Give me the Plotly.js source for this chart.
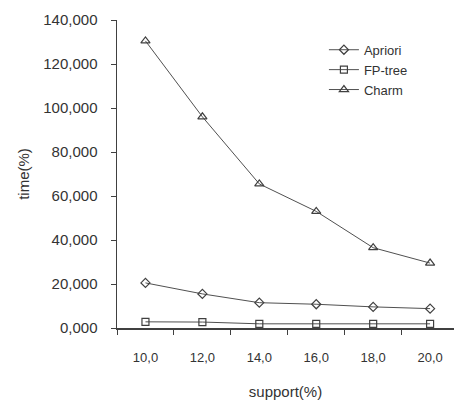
<!DOCTYPE html>
<html><head><meta charset="utf-8">
<script src="https://cdn.plot.ly/plotly-3.0.1.min.js"></script>
<style>html,body{margin:0;padding:0;background:#fff}</style>
</head><body><div id="chart" style="width:454px;height:403px"></div>
<script>
const categories = ["10,0","12,0","14,0","16,0","18,0","20,0"];
const apriori = [20.5, 15.5, 11.5, 10.8, 9.6, 8.8];
const fptree = [2.8, 2.7, 1.9, 1.9, 1.9, 1.9];
const charm = [130.5, 96.0, 65.5, 53.0, 36.5, 29.5];
const seriesNames = ["Apriori","FP-tree","Charm"];
const yTickVals = [0,20,40,60,80,100,120,140];

const lineColor = "#404040";
const fam = "Liberation Sans, Arial, sans-serif";
const txt = "#333";
function tr(name, y, sym, size){
  return {x: categories, y: y, name: name, type: "scatter", mode: "lines+markers",
    line: {color: "#505050", width: 1},
    marker: {symbol: sym, size: size, color: lineColor, line: {color: lineColor, width: 1.2}}};
}
const data = [
  tr(seriesNames[0], apriori, "diamond-open", 7),
  tr(seriesNames[1], fptree, "square-open", 7),
  tr(seriesNames[2], charm, "triangle-up-open", 8)
];
const layout = {
  width: 454, height: 403,
  margin: {l: 117, r: 0, t: 20, b: 75},
  paper_bgcolor: "#fff", plot_bgcolor: "#fff",
  font: {family: fam, size: 14, color: txt},
  separators: ",.",
  showlegend: true,
  legend: {x: 0.614, y: 0.952, xanchor: "left", yanchor: "top", bgcolor: "rgba(0,0,0,0)",
    font: {family: fam, size: 13, color: txt}, tracegroupgap: 0, itemwidth: 30},
  xaxis: {type: "category", range: [-0.5, 5.42], tickson: "boundaries", ticks: "outside",
    ticklen: 5, tickcolor: lineColor, showline: true, linecolor: lineColor, linewidth: 1.5,
    showgrid: false, zeroline: false, ticklabelstandoff: 17,
    tickfont: {family: fam, size: 13, color: txt},
    title: {text: "support(%)", font: {family: fam, size: 15, color: txt}, standoff: 22}},
  yaxis: {range: [0, 140], tickvals: yTickVals, tickformat: ".3f", ticks: "outside",
    ticklen: 5, tickcolor: lineColor, showline: true, linecolor: lineColor, linewidth: 1.5,
    showgrid: false, zeroline: false, ticklabelstandoff: 10,
    tickfont: {family: fam, size: 15, color: txt},
    title: {text: "time(%)", font: {family: fam, size: 15, color: txt}, standoff: 10}}
};
Plotly.newPlot("chart", data, layout, {displayModeBar: false, staticPlot: true});
</script></body></html>
